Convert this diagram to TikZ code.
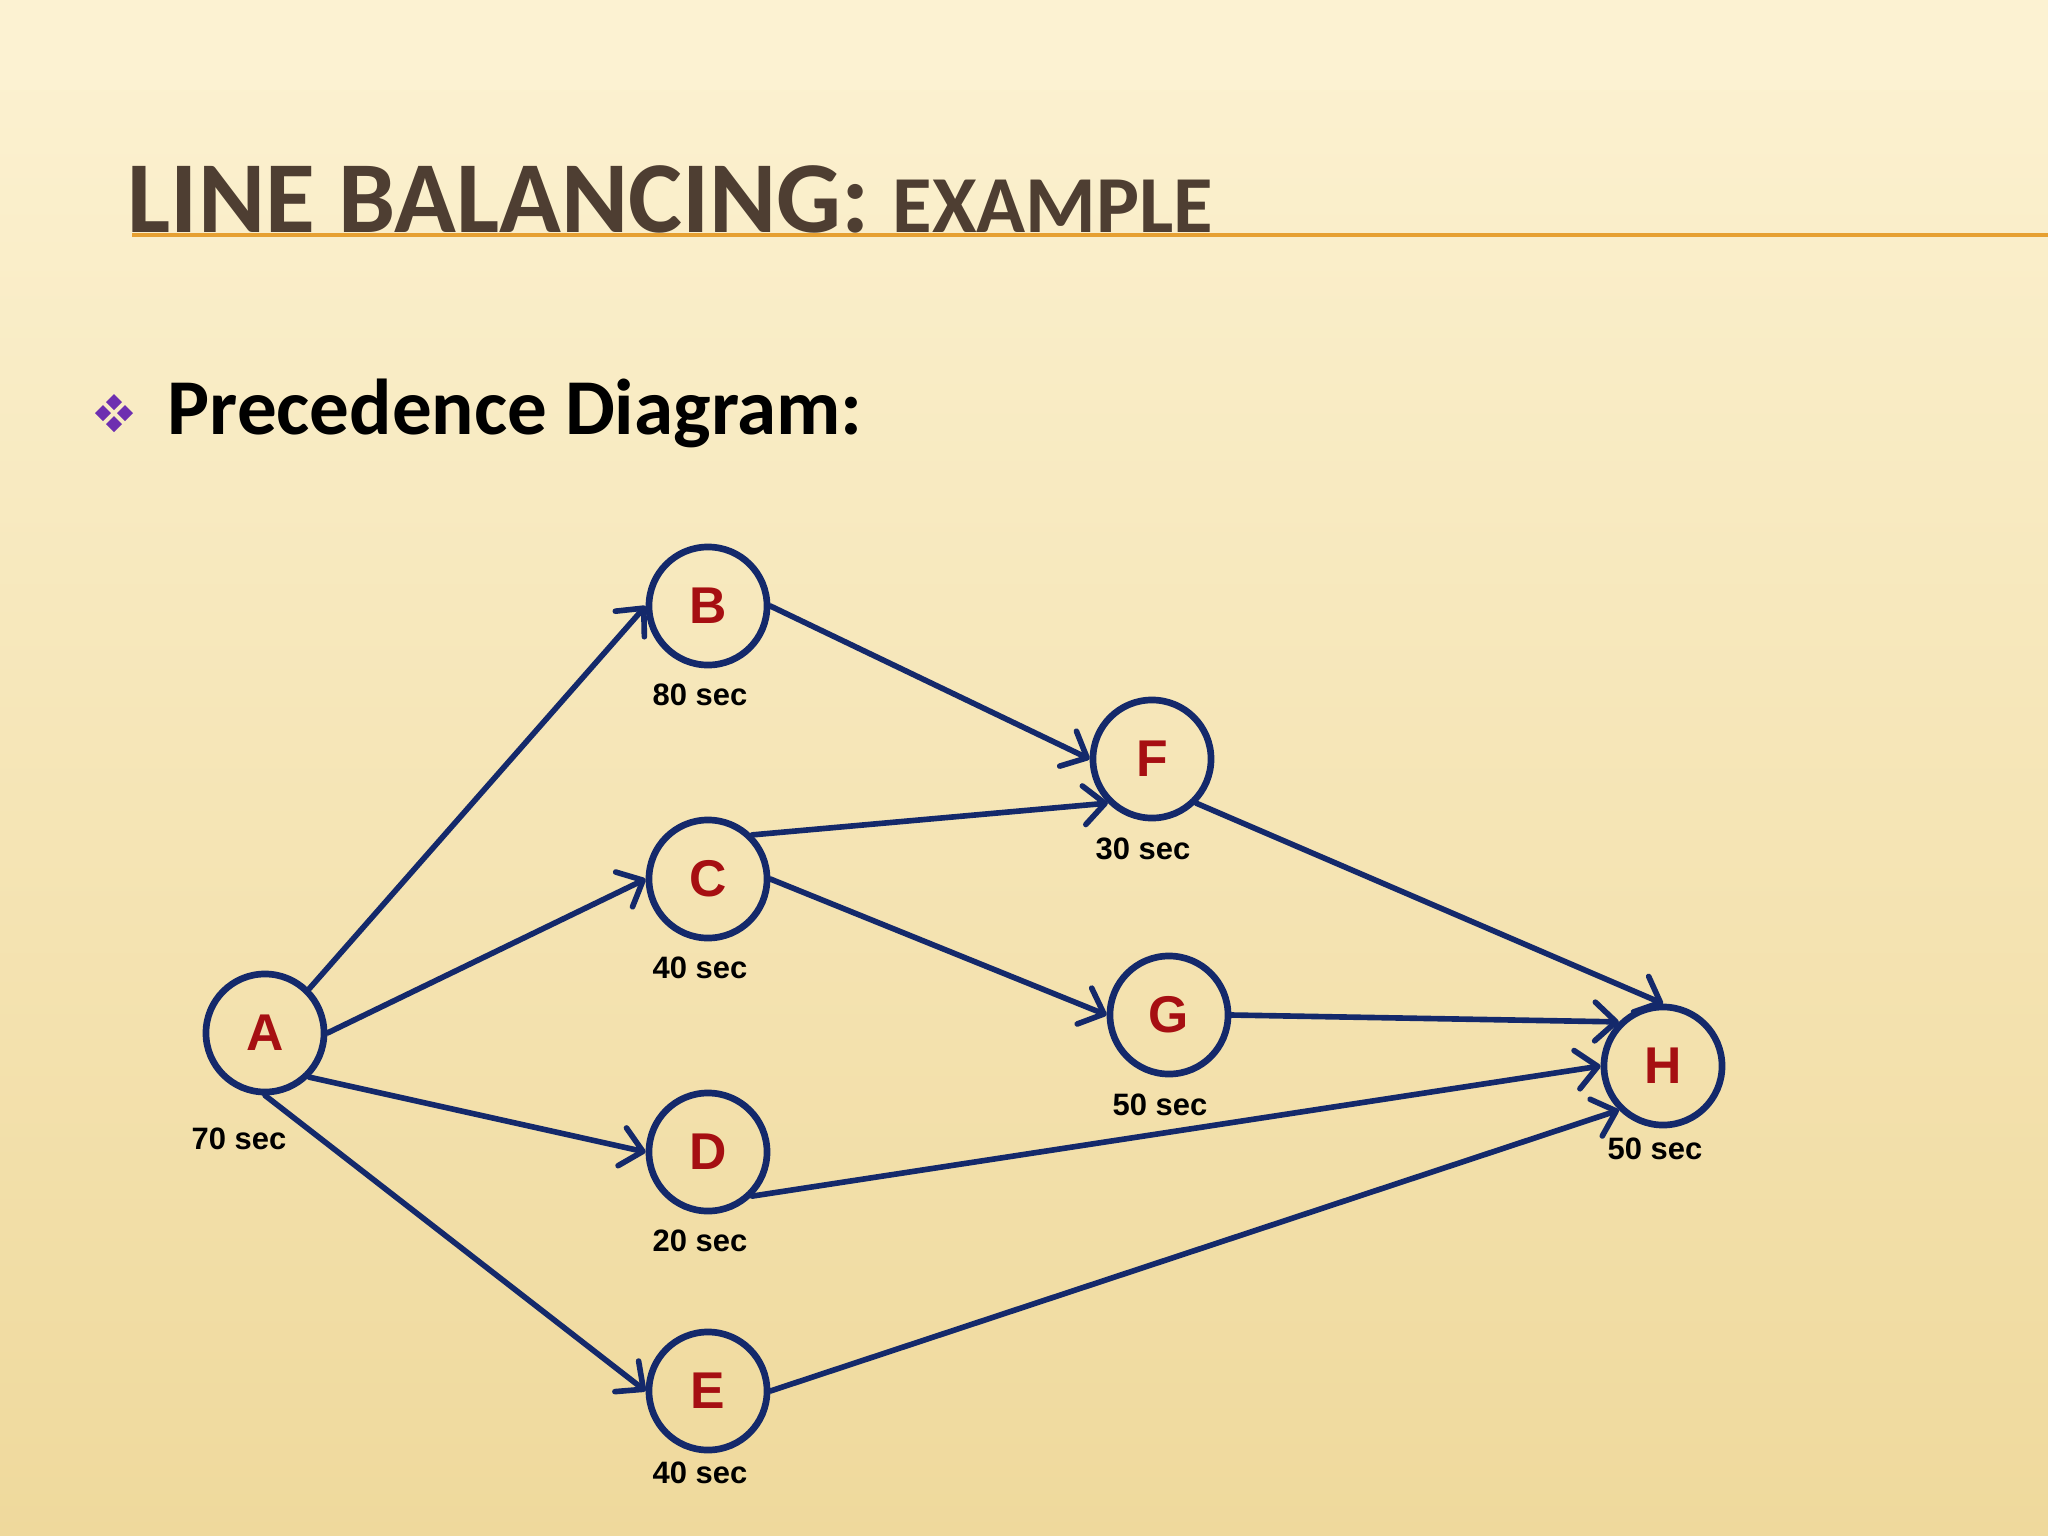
\documentclass[tikz,border=0pt]{standalone}
\usepackage{fontspec}
\setmainfont{Liberation Sans}
\newfontfamily\slidefont{Carlito}
\usetikzlibrary{arrows.meta}

\definecolor{navyline}{HTML}{14296B}
\definecolor{taskred}{HTML}{A60F12}
\definecolor{titlebrown}{HTML}{4E3E32}
\definecolor{ruleorange}{HTML}{E6A032}
\definecolor{bulletpurple}{HTML}{6E2FB0}
\definecolor{bgtop}{HTML}{FCF2D2}
\definecolor{bgbottom}{HTML}{EFD99C}

\tikzset{
  task/.style={circle, draw=navyline, line width=1.9pt, minimum size=1.18cm, inner sep=0pt,
    text=taskred, font=\fontsize{14.7}{16}\selectfont\bfseries},
  tasktime/.style={inner sep=0pt, font=\fontsize{8.8}{10}\selectfont\bfseries},
  flow/.style={draw=navyline, line width=1.6pt, line cap=round,
    -{Straight Barb[length=6pt,width=11pt,line width=1.6pt,round]}}
}

\begin{document}
\begin{tikzpicture}[x=0.01cm, y=-0.01cm]

				\useasboundingbox (0,0) rectangle (2048,1536);
				\fill[top color=bgtop, bottom color=bgbottom] (0,0) rectangle (2048,1536);
				\fill[bgtop] (0,0) rectangle (2048,90);

				% title
				\draw[ruleorange, line width=1.1pt] (132,235) -- (2048,235);
				\node[anchor=base west, inner sep=0pt, text=titlebrown, font=\slidefont\bfseries\fontsize{29}{32}\selectfont] (title) at (127,232) {LINE BALANCING: {\fontsize{23}{26}\selectfont EXAMPLE}};

				% bullet
				\fill[bulletpurple] (114,394) -- (122,402) -- (114,410) -- (106,402) -- cycle;
				\fill[bulletpurple] (125,405) -- (133,413) -- (125,421) -- (117,413) -- cycle;
				\fill[bulletpurple] (114,416) -- (122,424) -- (114,432) -- (106,424) -- cycle;
				\fill[bulletpurple] (103,405) -- (111,413) -- (103,421) -- (95,413) -- cycle;
				\node[anchor=base west, inner sep=0pt, font=\slidefont\bfseries\fontsize{22.5}{26}\selectfont] (subtitle) at (167,434) {Precedence Diagram:};

				% tasks
				\node[task] (A) at (265,1033) {A};
				\node[task] (B) at (708,606) {B};
				\node[task] (C) at (708,879) {C};
				\node[task] (D) at (708,1152) {D};
				\node[task] (E) at (708,1391) {E};
				\node[task] (F) at (1152,759) {F};
				\node[task] (G) at (1169,1015) {G};
				\node[task] (H) at (1663,1066) {H};

				\node[tasktime] (tA) at (239,1139) {70 sec};
				\node[tasktime] (tB) at (700,695) {80 sec};
				\node[tasktime] (tC) at (700,968) {40 sec};
				\node[tasktime] (tD) at (700,1241) {20 sec};
				\node[tasktime] (tE) at (700,1473) {40 sec};
				\node[tasktime] (tF) at (1143,849) {30 sec};
				\node[tasktime] (tG) at (1160,1105) {50 sec};
				\node[tasktime] (tH) at (1655,1149) {50 sec};

				% precedence
				\draw[flow] (A.north east) -- (B.west);
				\draw[flow] (A.east) -- (C.west);
				\draw[flow] (A.south east) -- (D.west);
				\draw[flow] (A.south) -- (E.west);
				\draw[flow] (B.east) -- (F.west);
				\draw[flow] (C.north east) -- (F.south west);
				\draw[flow] (C.east) -- (G.west);
				\draw[flow] (D.south east) -- (H.west);
				\draw[flow] (E.east) -- (H.south west);
				\draw[flow] (F.south east) -- (H.north);
				\draw[flow] (G.east) -- (H.north west);
		\end{tikzpicture}
\end{document}
